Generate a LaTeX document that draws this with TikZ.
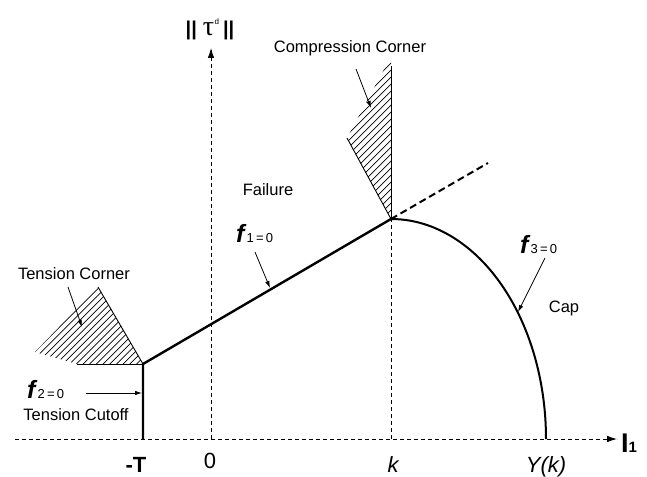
\documentclass[tikz,border=0pt]{standalone}
\usepackage{fontspec}
\setmainfont{Liberation Sans}
\newfontfamily\greekserif{Liberation Serif}
\usetikzlibrary{arrows.meta,calc}
\newcommand{\flab}[1]{{\fontsize{25}{25}\selectfont\bfseries\itshape f}{\fontsize{13}{13}\selectfont\,#1\,=\,0}}
\begin{document}
\begin{tikzpicture}[x=1pt,y=-1pt,
  axisline/.style={line width=0.9pt, dash pattern=on 4pt off 3pt},
  axisarrow/.style={-{Latex[length=10pt,width=6.5pt]}},
  thickline/.style={line width=2.4pt},
  extline/.style={line width=2pt, dash pattern=on 7pt off 4pt},
  lbl/.style={font=\fontsize{16.5}{16.5}\selectfont, inner sep=0pt, anchor=base},
  biglbl/.style={font=\fontsize{22}{22}\selectfont, inner sep=0pt, anchor=base},
  flbl/.style={inner sep=0pt, anchor=base west},
  ptr/.style={line width=0.8pt, -{Latex[length=7pt,width=4.5pt]}},
  hatchline/.style={line width=0.7pt}
]
\useasboundingbox (0,0) rectangle (647,476);

% key points
\coordinate (xs) at (15,439);
\coordinate (xe) at (617,439);
\coordinate (O) at (211,439);
\coordinate (ye) at (211,48);
\coordinate (Tb) at (143,439);
\coordinate (TC) at (143,364);
\coordinate (K) at (391,219);
\coordinate (Kb) at (391,439);
\coordinate (Ktop) at (391,66);
\coordinate (Kext) at (488,163);
\coordinate (Yk) at (546,439);

% hatching: tension corner
\begin{scope}
  \clip (98,287) -- (143,364) -- (77,364) -- (35,352) -- cycle;
  \foreach \c in {380,386.7,...,520} \draw[hatchline] ({\c},0) -- ({\c-600},600);
\end{scope}
\draw[line width=0.9pt] (98,287) -- (TC);
\draw[line width=0.9pt] (77,364) -- (TC);

% hatching: compression corner
\begin{scope}
  \clip (K) -- (347,138) -- (388,62) -- (391,62) -- cycle;
  \foreach \c in {440,447,...,620} \draw[hatchline] ({\c},0) -- ({\c-600},600);
\end{scope}
\draw[line width=0.9pt] (K) -- (347,138);
\draw[line width=1pt] (K) -- (Ktop);

% axes
\draw[axisline] (xs) -- (xe);
\draw[axisarrow, line width=0.9pt] ($(xe)+(-4,0)$) -- (xe);
\draw[axisline] (O) -- (ye);
\draw[axisarrow, line width=0.9pt] ($(ye)+(0,4)$) -- (ye);
\draw[axisline] (Kb) -- (K);

% yield surface
\draw[thickline] (Tb) -- (TC) -- (K);
\draw[extline] (K) -- (Kext);
\draw[line width=2pt] plot[domain=-90:0, samples=80] ({391+155*cos(\x)}, {439+220*sin(\x)});

% labels
\node[font=\fontsize{20}{20}\selectfont\bfseries, inner sep=0pt, anchor=base] (tau) at (210,36)
  {||\hspace{6pt}{\greekserif\mdseries\fontsize{28}{28}\selectfont τ}\hspace{0.5pt}\raisebox{11pt}{\mdseries\fontsize{8}{8}\selectfont d}\hspace{4pt}||};
\node[inner sep=0pt, anchor=base west] (I1) at (621,452)
  {{\fontsize{27}{27}\selectfont\bfseries I}{\fontsize{15}{15}\selectfont\bfseries 1}};

\node[biglbl, font=\fontsize{22}{22}\selectfont\bfseries] (mT) at (136,472) {-T};
\node[biglbl] (zero) at (210,468) {0};
\node[biglbl, font=\fontsize{22}{22}\selectfont\itshape] (klab) at (393,472) {k};
\node[biglbl, font=\fontsize{22}{22}\selectfont\itshape] (Ylab) at (546,472) {Y(k)};

\node[lbl] (tcorner) at (74,279) {Tension Corner};
\node[lbl] (tcut) at (76,420) {Tension Cutoff};
\node[lbl] (ccorner) at (350,53) {Compression Corner};
\node[lbl] (fail) at (268,195) {Failure};
\node[lbl] (cap) at (564,312) {Cap};

\node[flbl] (f1) at (236,242) {\flab{1}};
\node[flbl] (f2) at (27,398) {\flab{2}};
\node[flbl] (f3) at (520,253) {\flab{3}};

% pointer arrows
\coordinate (p1s) at (255,252); \coordinate (p1e) at (270,288);
\coordinate (p2s) at (86,393);  \coordinate (p2e) at (142,393);
\coordinate (p3s) at (545,258); \coordinate (p3e) at (518,312);
\coordinate (pts) at (68,287);  \coordinate (pte) at (82,327);
\coordinate (pcs) at (356,69);  \coordinate (pce) at (371,108);
\draw[ptr] (p1s) -- (p1e);
\draw[ptr] (p2s) -- (p2e);
\draw[ptr] (p3s) -- (p3e);
\draw[ptr] (pts) -- (pte);
\draw[ptr] (pcs) -- (pce);
\end{tikzpicture}
\end{document}
